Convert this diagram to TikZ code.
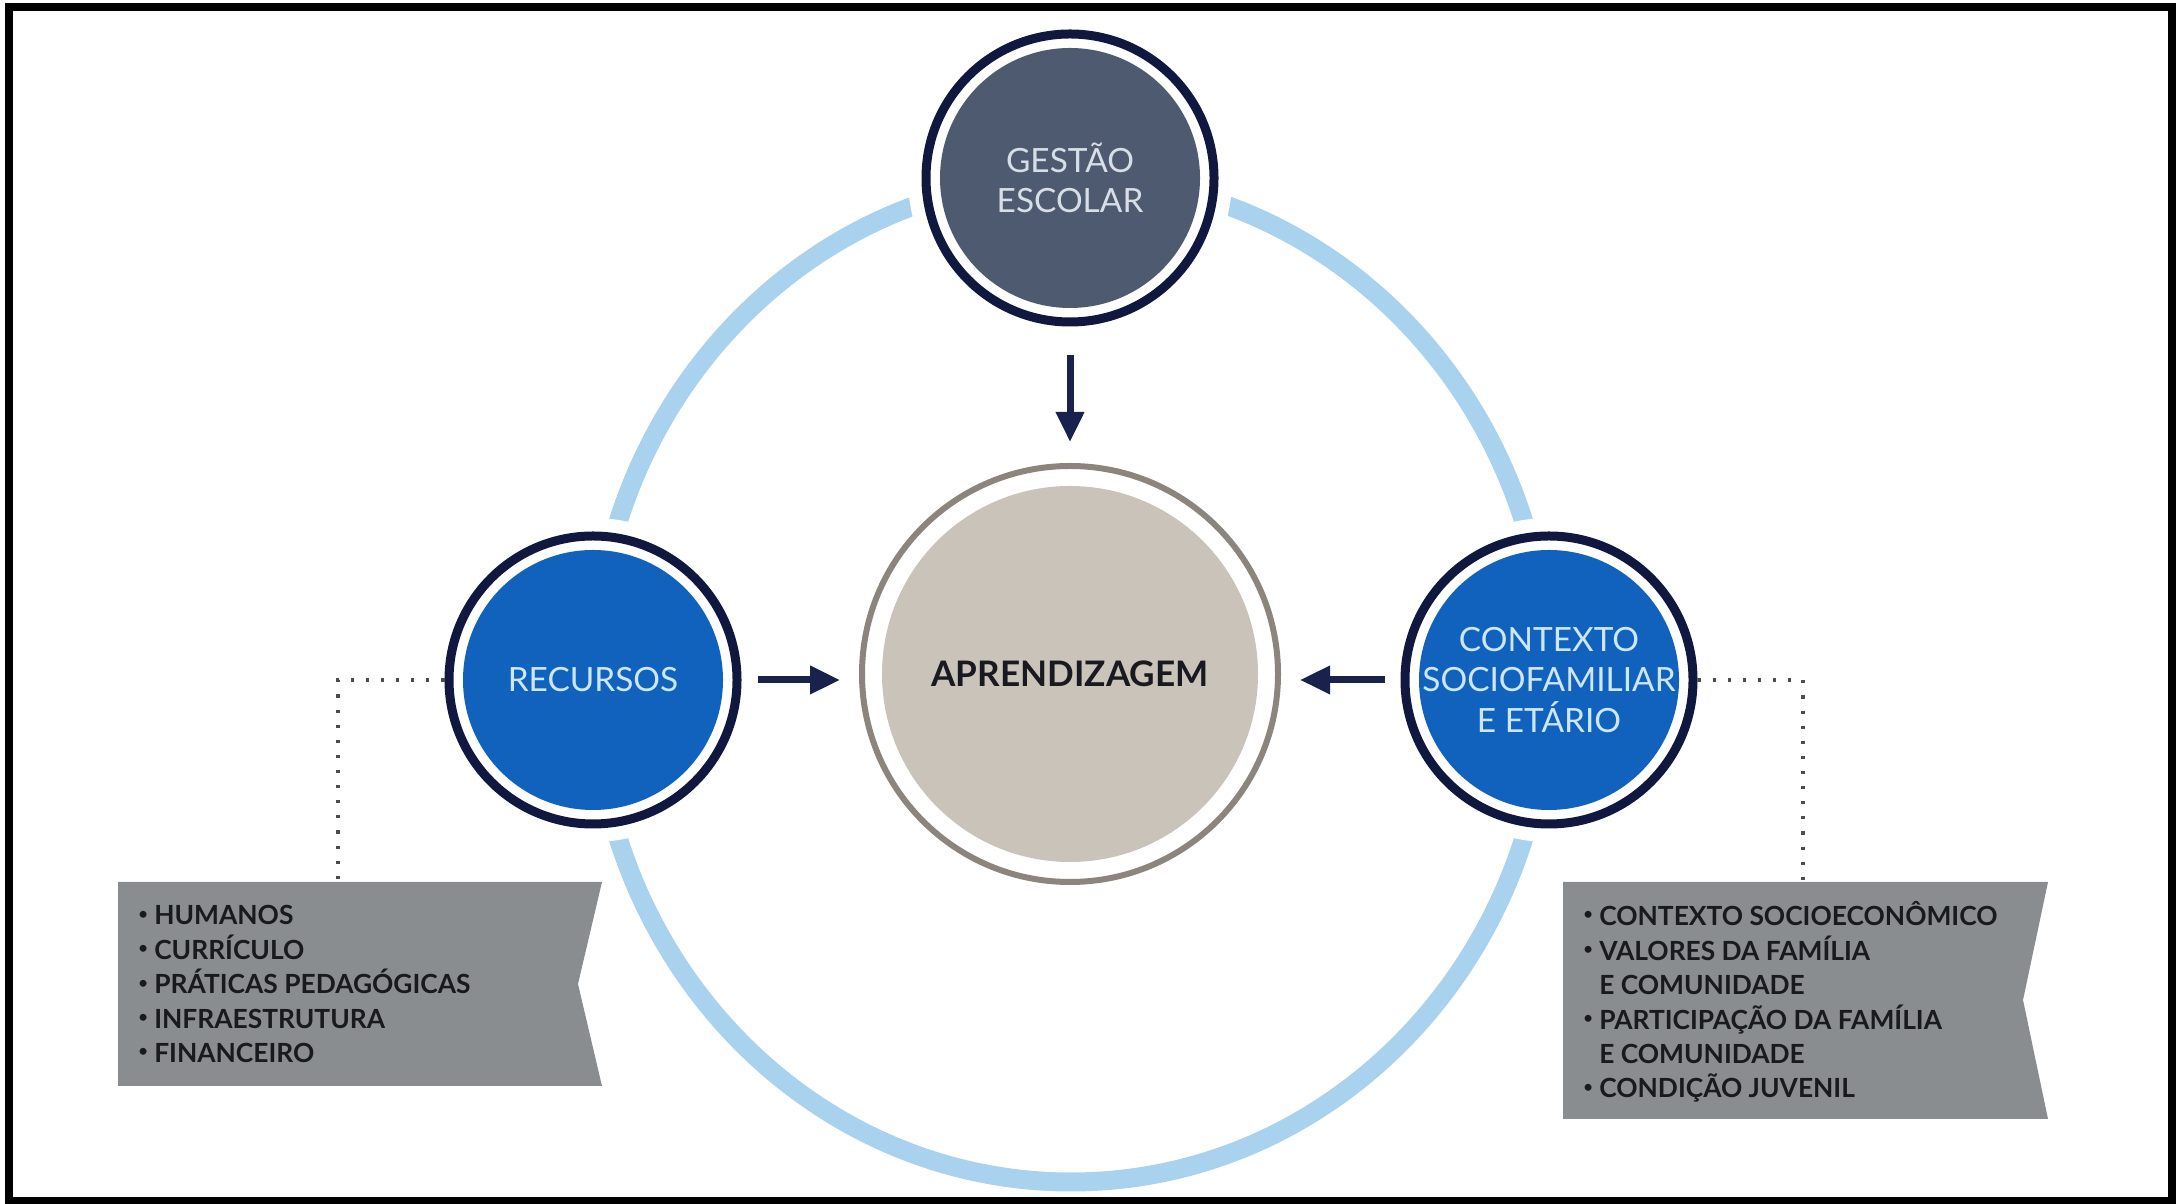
\documentclass[tikz,border=0pt]{standalone}
\usepackage{fontspec}
\setmainfont{Lato}
\usetikzlibrary{arrows.meta}
\definecolor{ringblue}{RGB}{168,210,238}
\definecolor{navyring}{RGB}{16,24,64}
\definecolor{arrownavy}{RGB}{24,34,76}
\definecolor{slate}{RGB}{78,90,112}
\definecolor{recblue}{RGB}{16,98,189}
\definecolor{bluetext}{RGB}{205,230,250}
\definecolor{gestext}{RGB}{215,222,232}
\definecolor{beige}{RGB}{201,195,186}
\definecolor{beigering}{RGB}{140,133,125}
\definecolor{bannergray}{RGB}{137,141,144}
\definecolor{listtext}{RGB}{25,25,32}
\newcommand{\dotitem}{\raisebox{0.22em}{\fontsize{4.5}{5}\selectfont•}\ }
\begin{document}
\begin{tikzpicture}[
  hub/.style={circle, minimum size=2.88cm, inner sep=0pt, fill=white,
    draw=navyring, line width=0.09cm, preaction={draw=white, line width=0.36cm},
    path picture={\fill[#1] (path picture bounding box.center) circle (1.30);},
    align=center, font=\fontsize{9.5}{11.5}\selectfont},
  flow/.style={draw=arrownavy, line width=0.07cm, -{Triangle[width=0.27cm,length=0.3cm]}},
  leader/.style={draw=black!70, line width=0.9pt, dash pattern=on 0.9pt off 3.4pt},
  banner/.style={fill=bannergray},
  list/.style={anchor=north west, inner sep=0pt, align=left, text=listtext,
    font=\bfseries\fontsize{7.5}{9.8}\selectfont}]
  \useasboundingbox (0,0) rectangle (21.77,12.04);
  \draw[line width=0.08cm] (0.09,0.03) rectangle (21.72,11.97);
  \draw[ringblue, line width=0.19cm] (10.71,5.24) ellipse (4.77 and 5.02);

  \node[hub=slate, text=gestext] (ges) at (10.70,10.26) {GESTÃO\\ESCOLAR};
  \node[hub=recblue, text=bluetext] (rec) at (5.93,5.24) {RECURSOS};
  \node[hub=recblue, text=bluetext] (ctx) at (15.49,5.24) {CONTEXTO\\SOCIOFAMILIAR\\E ETÁRIO};
  \node[circle, minimum size=4.16cm, inner sep=0pt, fill=white, draw=beigering, line width=0.06cm,
    path picture={\fill[beige] (path picture bounding box.center) circle (1.88);},
    text=listtext, font=\bfseries\fontsize{10}{12}\selectfont] (apr) at (10.70,5.30) {APRENDIZAGEM};

  \draw[flow, shorten <=0.29cm, shorten >=0.21cm] (ges) -- (apr);
  \draw[flow, shorten <=0.16cm, shorten >=0.19cm] (rec.east) -- (rec.east -| apr.west);
  \draw[flow, shorten <=0.16cm, shorten >=0.19cm] (ctx.west) -- (ctx.west -| apr.east);

  \fill[banner] (1.18,3.22) -- (6.02,3.22) -- (5.78,2.20) -- (6.02,1.18) -- (1.18,1.18) -- cycle;
  \fill[banner] (15.63,3.22) -- (20.48,3.22) -- (20.23,2.04) -- (20.48,0.85) -- (15.63,0.85) -- cycle;

  \coordinate (recknee) at (3.38,5.24);
  \coordinate (recdrop) at (3.38,3.14);
  \coordinate (ctxknee) at (18.03,5.24);
  \coordinate (ctxdrop) at (18.03,3.14);
  \draw[leader] (rec.west) -- (recknee) -- (recdrop);
  \draw[leader] (ctx.east) -- (ctxknee) -- (ctxdrop);

  \node[list] (reclist) at (1.38,2.99) {\dotitem HUMANOS\\\dotitem CURRÍCULO\\\dotitem PRÁTICAS PEDAGÓGICAS\\\dotitem INFRAESTRUTURA\\\dotitem FINANCEIRO};
  \node[list] (ctxlist) at (15.83,3.03) {\dotitem CONTEXTO SOCIOECONÔMICO\\\dotitem VALORES DA FAMÍLIA\\\hphantom{\dotitem}E COMUNIDADE\\\dotitem PARTICIPAÇÃO DA FAMÍLIA\\\hphantom{\dotitem}E COMUNIDADE\\\dotitem CONDIÇÃO JUVENIL};
\end{tikzpicture}
\end{document}
